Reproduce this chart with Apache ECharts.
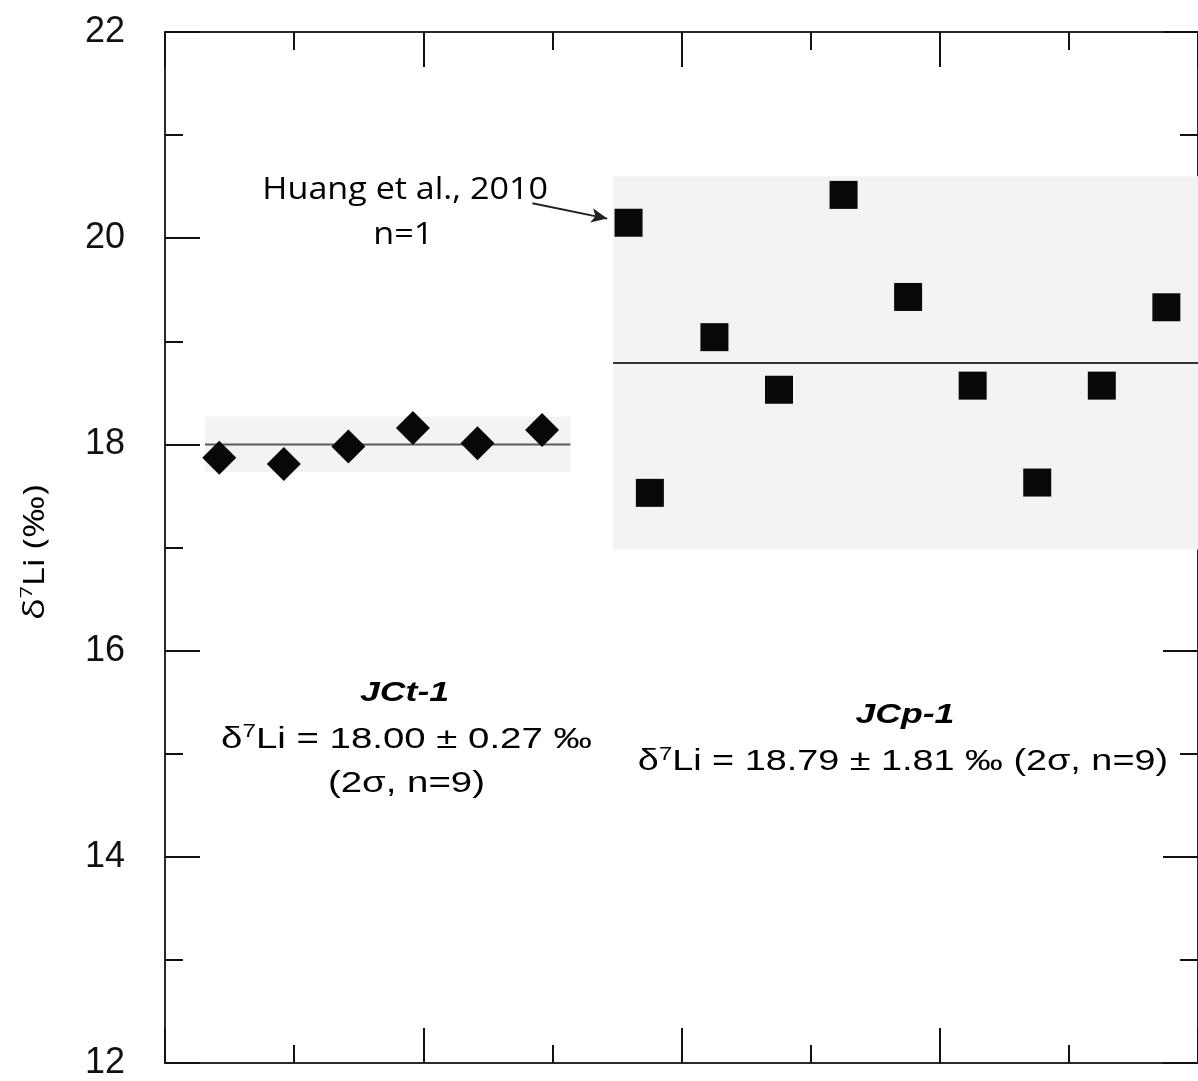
<!DOCTYPE html>
<html><head><meta charset="utf-8">
<script src="https://cdn.jsdelivr.net/npm/echarts@6/dist/echarts.min.js"></script>
<style>html,body{margin:0;padding:0;background:#fff}#c{width:1198px;height:1081px}</style>
</head><body><div id="c"></div>
<script>
// ---- data ----
const yTickValues = [12, 14, 16, 18, 20, 22];
const jctX = [0.84, 1.84, 2.84, 3.84, 4.84, 5.84];
const jctY = [17.87, 17.81, 17.98, 18.16, 18.01, 18.14];
const jcpX = [7.51, 8.51, 9.51, 10.51, 11.51, 12.51, 13.51, 14.51, 15.51];
const jcpY = [17.53, 19.04, 18.53, 20.42, 19.43, 18.57, 17.63, 18.57, 19.33];
const huangX = [7.18];
const huangY = [20.15];
const jctMean = 18.00, jctErr = 0.27, jctSpan = [0.62, 6.28];
const jcpMean = 18.79, jcpErr = 1.81, jcpSpan = [6.94, 16];
const arrowFrom = [5.69, 20.34], arrowTo = [6.85, 20.19];

const chart = echarts.init(document.getElementById('c'));
function axisLine() { return {show: true, onZero: false, lineStyle: {color: '#2a2a2a', width: 2}}; }
function tick() { return {show: true, inside: true, length: 35, lineStyle: {color: '#111', width: 2}}; }
function minor() { return {show: true, splitNumber: 2, length: 18, lineStyle: {color: '#111', width: 2}}; }
function xAx(pos) {
  return {type: 'value', min: 0, max: 16, interval: 4, position: pos,
    axisLine: axisLine(), axisTick: tick(), minorTick: minor(), axisLabel: {show: false},
    splitLine: {show: false}, minorSplitLine: {show: false}};
}
function yAx(pos, labels) {
  return {type: 'value', min: 12, max: 22, interval: 2, position: pos,
    axisLine: axisLine(), axisTick: tick(), minorTick: minor(),
    axisLabel: labels ? {show: true, fontFamily: 'Liberation Sans', fontSize: 36, color: '#111', margin: 40,
      formatter: v => yTickValues.includes(v) ? String(v) : ''} : {show: false},
    splitLine: {show: false}, minorSplitLine: {show: false}};
}
chart.setOption({
  animation: false,
  backgroundColor: '#fff',
  grid: {left: 165, top: 32, width: 1040, height: 1040},
  xAxis: [xAx('bottom'), xAx('top')],
  yAxis: [yAx('left', true), yAx('right', false)],
  series: [
    {type: 'line', data: [], silent: true, z: 1,
      markArea: {silent: true, itemStyle: {color: '#f2f3f2'}, data: [
        [{xAxis: jctSpan[0], yAxis: jctMean - jctErr}, {xAxis: jctSpan[1], yAxis: jctMean + jctErr}],
        [{xAxis: jcpSpan[0], yAxis: jcpMean - jcpErr}, {xAxis: jcpSpan[1], yAxis: jcpMean + jcpErr}]
      ]}},
    {type: 'line', symbol: 'none', z: 2, lineStyle: {color: '#5a5a5a', width: 2},
      data: [[jctSpan[0], jctMean], [jctSpan[1], jctMean]]},
    {type: 'line', symbol: 'none', z: 2, lineStyle: {color: '#333', width: 2},
      data: [[jcpSpan[0], jcpMean], [jcpSpan[1], jcpMean]]},
    {type: 'scatter', symbol: 'diamond', symbolSize: [34, 34], z: 3, itemStyle: {color: '#080808', opacity: 1},
      data: jctX.map((x, i) => [x, jctY[i]])},
    {type: 'scatter', symbol: 'rect', symbolSize: [28, 28], z: 3, itemStyle: {color: '#080808', opacity: 1},
      data: jcpX.map((x, i) => [x, jcpY[i]])},
    {type: 'scatter', symbol: 'rect', symbolSize: [28, 28], z: 3, itemStyle: {color: '#080808', opacity: 1},
      data: huangX.map((x, i) => [x, huangY[i]]),
      markLine: {silent: true, animation: false, symbol: ['none', 'arrow'], symbolSize: [11, 16],
        label: {show: false}, lineStyle: {color: '#222', width: 2, type: 'solid'},
        data: [[{coord: arrowFrom}, {coord: arrowTo}]]}}
  ]
});

// annotations anchored in data coordinates
const sup = {fontFamily: 'Liberation Sans', fontSize: 19, color: '#111', verticalAlign: 'top', lineHeight: 34};
const main = {fontFamily: 'Liberation Sans', fontSize: 30, color: '#111', lineHeight: 34};
const notes = [
  {at: [3.71, 15.58], text: '{b|JCt-1}', sx: 1.32},
  {at: [3.74, 15.14], text: '{a|δ}{s|7}{a|Li = 18.00 ± 0.27 ‰}', sx: 1.28},
  {at: [3.74, 14.71], text: '{a|(2σ, n=9)}', sx: 1.28},
  {at: [11.46, 15.37], text: '{b|JCp-1}', sx: 1.32},
  {at: [11.43, 14.92], text: '{a|δ}{s|7}{a|Li = 18.79 ± 1.81 ‰ (2σ, n=9)}', sx: 1.26},
  {at: [3.72, 20.47], text: '{h|Huang et al., 2010}', sx: 1.1},
  {at: [3.69, 20.03], text: '{h|n=1}', sx: 1.1}
];
const rich = {a: main, s: sup,
  b: {fontFamily: 'Liberation Sans', fontSize: 27, fontWeight: 'bold', fontStyle: 'italic', color: '#111'},
  h: {fontFamily: 'Open Sans', fontSize: 31, color: '#333'},
  ya: {fontFamily: 'Open Sans', fontSize: 29, color: '#222', lineHeight: 34},
  ys: {fontFamily: 'Open Sans', fontSize: 17, color: '#222', verticalAlign: 'top', lineHeight: 34}};
const graphics = notes.map(n => {
  const p = chart.convertToPixel({gridIndex: 0}, n.at);
  return {type: 'text', x: p[0], y: p[1], scaleX: n.sx, z: 10,
    style: {text: n.text, rich, align: 'center', verticalAlign: 'middle'}};
});
// y-axis title, centred on the axis
const mid = chart.convertToPixel({gridIndex: 0}, [0, 17]);
graphics.push({type: 'text', x: 36, y: mid[1] + 5, rotation: Math.PI / 2, scaleX: 1.25, z: 10,
  style: {text: '{ya|δ}{ys|7}{ya|Li (‰)}', rich, align: 'center', verticalAlign: 'middle'}});
chart.setOption({graphic: graphics});
</script></body></html>
